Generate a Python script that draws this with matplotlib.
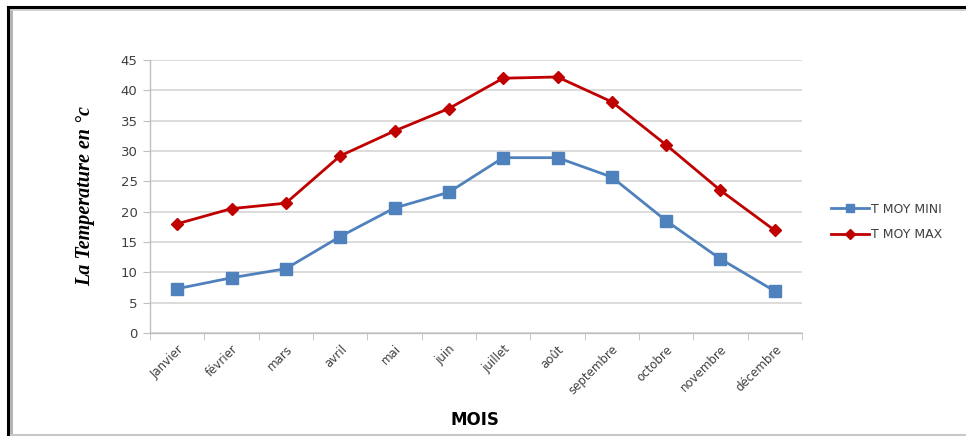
import matplotlib
matplotlib.use("Agg")
import matplotlib.pyplot as plt
from matplotlib.lines import Line2D
from matplotlib.transforms import ScaledTranslation

mois = ["Janvier", "février", "mars", "avril", "mai", "juin", "juillet",
        "août", "septembre", "octobre", "novembre", "décembre"]
t_moy_mini = [7.3, 9.1, 10.6, 15.9, 20.6, 23.2, 28.9, 28.9, 25.7, 18.5, 12.2, 6.9]
t_moy_max = [18.0, 20.5, 21.4, 29.2, 33.3, 37.0, 42.0, 42.2, 38.1, 31.0, 23.5, 16.9]
y_ticks = [0, 5, 10, 15, 20, 25, 30, 35, 40, 45]

blue = "#4f81bd"
red = "#c00000"
grid_gray = "#d9d9d9"
text_gray = "#404040"

fig = plt.figure(figsize=(9.66, 4.36), dpi=100)
W, H = 966, 436

# double frame around the chart
fig.add_artist(Line2D([7.5 / W, 7.5 / W], [0, 1 - 7.5 / H], transform=fig.transFigure,
                      color="black", lw=2.2))
fig.add_artist(Line2D([7.5 / W, 1], [1 - 7.5 / H, 1 - 7.5 / H], transform=fig.transFigure,
                      color="black", lw=2.2))
fig.add_artist(Line2D([11 / W, 11 / W], [1.5 / H, 1 - 10 / H], transform=fig.transFigure,
                      color="#b0b0b0", lw=2))
fig.add_artist(Line2D([11 / W, 1], [1 - 10 / H, 1 - 10 / H], transform=fig.transFigure,
                      color="#c8c8c8", lw=1.2))
fig.add_artist(Line2D([11 / W, 1], [1.5 / H, 1.5 / H], transform=fig.transFigure,
                      color="#c8c8c8", lw=1.5))

ax = fig.add_axes([150 / W, 1 - 333 / H, (802 - 150) / W, (333 - 60) / H])

x = list(range(len(mois)))
l1, = ax.plot(x, t_moy_mini, color=blue, lw=2, marker="s", markersize=8,
              label="T MOY MINI", zorder=3)
l2, = ax.plot(x, t_moy_max, color=red, lw=2, marker="D", markersize=6.5,
              label="T MOY MAX", zorder=3)

ax.set_xlim(-0.5, len(mois) - 0.5)
ax.set_ylim(0, 45)
ax.set_yticks(y_ticks)
ax.set_yticklabels([str(v) for v in y_ticks], fontsize=9.5, color=text_gray)
ax.yaxis.grid(True, color=grid_gray, lw=1.3)
ax.set_axisbelow(True)

# category labels centred, tick marks on category boundaries
ax.set_xticks(x)
ax.set_xticklabels(mois, rotation=45, ha="right", va="top", rotation_mode="anchor",
                   fontsize=8.5, color=text_gray)
shift = ScaledTranslation(8 / 100, 0, fig.dpi_scale_trans)
for lbl in ax.get_xticklabels():
    lbl.set_transform(lbl.get_transform() + shift)
ax.tick_params(axis="x", which="major", length=0, pad=7)
ax.set_xticks([i - 0.5 for i in range(len(mois) + 1)], minor=True)
ax.tick_params(axis="x", which="minor", length=5, color="#bfbfbf", direction="out")
ax.tick_params(axis="y", length=5, color="#bfbfbf", direction="out", pad=4)

for side in ("top", "right"):
    ax.spines[side].set_visible(False)
for side in ("left", "bottom"):
    ax.spines[side].set_color("#bfbfbf")
    ax.spines[side].set_linewidth(1)

ax.set_ylabel("La Temperature en °c", fontfamily="Liberation Serif", fontstyle="italic",
              fontweight="bold", fontsize=14.5, color="black", labelpad=18)
fig.text(475 / W, 1 - 420 / H, "MOIS", ha="center", va="center", fontsize=12,
         fontweight="bold", color="black")

leg = fig.legend(handles=[l1, l2], loc="center left", bbox_to_anchor=(820 / W, 1 - 222 / H),
                 frameon=False, fontsize=9, handlelength=3.0, handletextpad=0.2,
                 labelspacing=1.0, markerscale=0.75)
for t in leg.get_texts():
    t.set_color(text_gray)
leg.legend_handles[1].set_markersize(5)

fig.savefig("out.png", dpi=100, facecolor="white")
